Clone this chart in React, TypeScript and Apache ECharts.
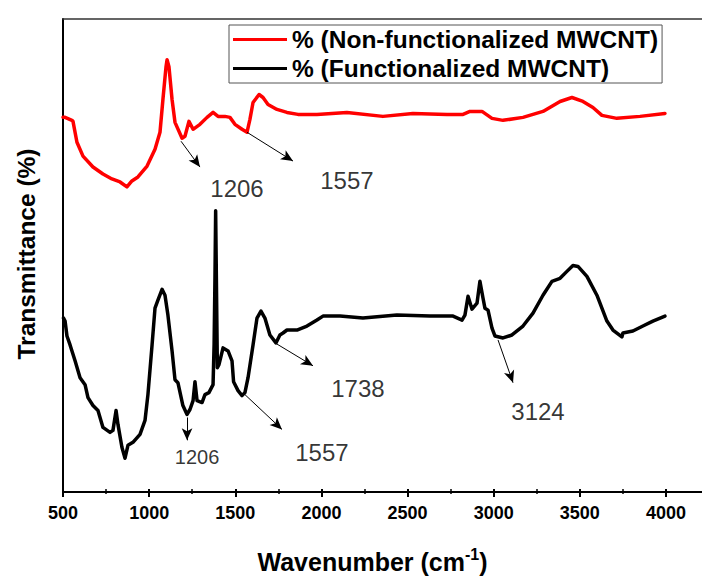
import React, { useEffect, useRef } from "react";
import * as echarts from "echarts";

// Wavenumber (cm-1) and transmittance (arbitrary units)
const redWave = [500, 512, 552, 558, 581, 616, 674, 732, 784, 831, 871, 900, 935, 988, 1034, 1063, 1080, 1098, 1104, 1115, 1133, 1150, 1191, 1208, 1231, 1255, 1295, 1336, 1371, 1400, 1440, 1469, 1498, 1539, 1568, 1585, 1603, 1638, 1661, 1690, 1742, 1800, 1864, 1974, 2148, 2357, 2531, 2729, 2822, 2862, 2932, 2990, 3054, 3170, 3286, 3385, 3454, 3518, 3576, 3628, 3715, 3849, 3994];
const redT = [374, 374, 371, 370, 349, 335, 324, 317, 312, 309, 304, 310, 314, 325, 342, 359, 392, 425, 432, 425, 392, 369, 353, 355, 370, 362, 367, 374, 379, 375, 375, 374, 367, 362, 359, 372, 389, 397, 394, 387, 382, 379, 377, 377, 379, 375, 378, 377, 377, 380, 380, 373, 371, 374, 380, 390, 394, 390, 384, 376, 373, 375, 378];

const blackWave = [503, 512, 523, 541, 570, 599, 628, 645, 674, 703, 732, 773, 790, 808, 819, 842, 860, 877, 906, 947, 976, 993, 1017, 1034, 1051, 1075, 1092, 1109, 1133, 1150, 1167, 1196, 1220, 1237, 1255, 1266, 1278, 1307, 1324, 1347, 1371, 1377, 1382, 1386, 1391, 1396, 1405, 1429, 1458, 1481, 1490, 1516, 1539, 1556, 1574, 1603, 1626, 1649, 1672, 1701, 1736, 1759, 1777, 1800, 1858, 1916, 1974, 2009, 2067, 2108, 2241, 2438, 2630, 2764, 2816, 2833, 2851, 2874, 2903, 2920, 2938, 2949, 2967, 2990, 3007, 3054, 3106, 3170, 3228, 3286, 3338, 3385, 3425, 3460, 3489, 3541, 3599, 3657, 3692, 3744, 3750, 3808, 3866, 3924, 3994];
const blackT = [172, 169, 154, 145, 129, 112, 105, 92, 84, 79, 62, 57, 59, 79, 65, 42, 31, 44, 47, 55, 69, 95, 145, 182, 190, 201, 195, 175, 139, 110, 107, 84, 75, 80, 89, 108, 89, 87, 95, 97, 105, 145, 212, 280, 200, 122, 125, 142, 139, 129, 108, 99, 94, 97, 112, 145, 172, 179, 172, 155, 147, 155, 157, 160, 160, 164, 170, 174, 174, 174, 172, 175, 174, 174, 170, 175, 194, 181, 187, 209, 192, 182, 180, 162, 154, 152, 155, 164, 177, 195, 209, 212, 219, 225, 224, 214, 195, 169, 160, 153, 157, 159, 164, 169, 174];

const seriesNames = ["% (Non-functionalized MWCNT)", "% (Functionalized MWCNT)"];
const xTicks = { min: 500, max: 4000, step: 500 };

// annotation arrows: [fromWave, fromT, toWave, toT]
const arrows = [
  [1185, 350, 1295, 324],
  [1568, 359, 1835, 330],
  [1220, 72, 1220, 49],
  [1556, 95, 1771, 60],
  [1731, 147, 1951, 124],
  [3025, 150, 3112, 107],
];
// annotation labels: [text, wave, T, fontSize]
const peakLabels: [string, number, number, number][] = [
  ["1206", 1510, 302, 24],
  ["1557", 2148, 310, 24],
  ["1206", 1278, 32, 20],
  ["1557", 2003, 37, 24],
  ["1738", 2212, 101, 24],
  ["3124", 3257, 78, 24],
];

const FONT = "'Liberation Sans', Arial, Helvetica, sans-serif";

export default function App() {
  const ref = useRef<HTMLDivElement>(null);
  useEffect(() => {
    document.body.style.margin = "0";
    if (!ref.current) return;
    const chart = echarts.init(ref.current, undefined, { renderer: "svg" });
    const red = redWave.map((w, i) => [w, redT[i]]);
    const black = blackWave.map((w, i) => [w, blackT[i]]);
    chart.setOption({
      animation: false,
      backgroundColor: "#fff",
      textStyle: { fontFamily: FONT },
      grid: [
        { left: 63, top: 19, width: 603, height: 473 },
        { left: 63, top: 19, right: 0, height: 473 },
      ],
      legend: {
        data: seriesNames,
        orient: "vertical",
        left: 229,
        top: 25,
        padding: [2, 4, 2, 4],
        itemGap: 4,
        itemWidth: 54,
        itemHeight: 3,
        icon: "rect",
        borderColor: "#555",
        borderWidth: 1,
        borderRadius: 0,
        textStyle: { fontFamily: FONT, fontSize: 24.5, fontWeight: "bold", color: "#000", lineHeight: 24 },
      },
      xAxis: [
        {
          type: "value",
          gridIndex: 0,
          min: xTicks.min,
          max: xTicks.max,
          interval: xTicks.step,
          axisLine: { show: false },
          axisTick: { show: true, inside: false, length: 8, lineStyle: { color: "#000", width: 2 } },
          minorTick: { show: true, splitNumber: 2, length: 5, lineStyle: { color: "#000", width: 1.5 } },
          splitLine: { show: false },
          axisLabel: {
            fontFamily: FONT,
            fontSize: 18,
            fontWeight: "bold",
            color: "#000",
            margin: 15,
            formatter: (v: number) => String(v),
          },
          name: "Wavenumber (cm{sup|-1})",
          nameLocation: "middle",
          nameGap: 57,
          nameTextStyle: {
            fontFamily: FONT,
            fontSize: 25,
            fontWeight: "bold",
            color: "#000",
            padding: [0, 0, 0, 16],
            rich: { sup: { fontFamily: FONT, fontSize: 16, fontWeight: "bold", color: "#000", padding: [0, 0, 15, 0] } },
          },
        },
        {
          type: "value",
          gridIndex: 1,
          position: "bottom",
          min: 0,
          max: 1,
          axisLine: { show: true, lineStyle: { color: "#000", width: 2 } },
          axisTick: { show: false },
          axisLabel: { show: false },
          splitLine: { show: false },
        },
        {
          type: "value",
          gridIndex: 1,
          position: "top",
          min: 0,
          max: 1,
          axisLine: { show: true, lineStyle: { color: "#333", width: 1.5 } },
          axisTick: { show: false },
          axisLabel: { show: false },
          splitLine: { show: false },
        },
      ],
      yAxis: [
        {
          type: "value",
          gridIndex: 0,
          min: 0,
          max: 473,
          axisLine: { show: true, lineStyle: { color: "#000", width: 2 } },
          axisTick: { show: false },
          axisLabel: { show: false },
          splitLine: { show: false },
          name: "Transmittance (%)",
          nameLocation: "middle",
          nameGap: 24,
          nameTextStyle: { fontFamily: FONT, fontSize: 24.5, fontWeight: "bold", color: "#000" },
        },
        { type: "value", gridIndex: 1, show: false, min: 0, max: 1 },
      ],
      series: [
        {
          name: seriesNames[0],
          type: "line",
          xAxisIndex: 0,
          yAxisIndex: 0,
          data: red,
          showSymbol: false,
          symbol: "none",
          color: "#ff0000",
          lineStyle: { color: "#ff0000", width: 3.5, join: "round", cap: "round" },
          silent: true,
        },
        {
          name: seriesNames[1],
          type: "line",
          xAxisIndex: 0,
          yAxisIndex: 0,
          data: black,
          showSymbol: false,
          symbol: "none",
          color: "#000",
          lineStyle: { color: "#000", width: 3.5, join: "round", cap: "round" },
          silent: true,
        },
        {
          name: "labels",
          type: "scatter",
          xAxisIndex: 0,
          yAxisIndex: 0,
          symbolSize: 1,
          itemStyle: { color: "rgba(0,0,0,0)" },
          silent: true,
          data: peakLabels.map(([t, w, v, fs]) => ({
            name: t,
            value: [w, v],
            label: { fontSize: fs, color: "#000" },
          })),
          label: {
            show: true,
            position: "inside",
            formatter: "{b}",
            fontFamily: FONT,
            color: "#000",
            fontWeight: "normal",
          },
          markLine: {
            silent: true,
            symbol: ["none", "arrow"],
            symbolSize: [8, 12],
            label: { show: false },
            lineStyle: { color: "#000", width: 1, type: "solid" },
            emphasis: { disabled: true },
            data: arrows.map(([x1, y1, x2, y2]) => [{ coord: [x1, y1] }, { coord: [x2, y2] }]),
          },
        },
      ],
    });
    return () => chart.dispose();
  }, []);
  return <div ref={ref} style={{ width: 702, height: 579 }} />;
}
